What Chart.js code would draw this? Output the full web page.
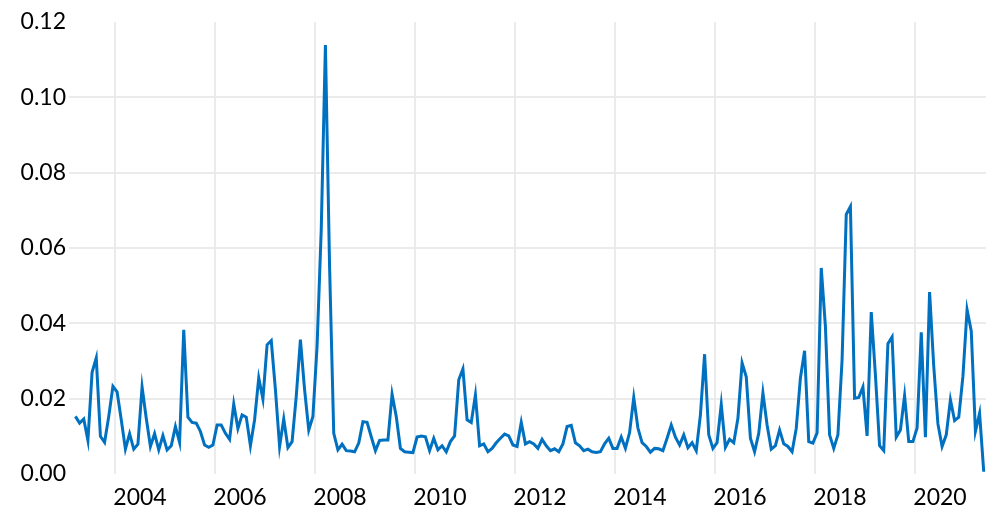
<!DOCTYPE html>
<html>
<head>
<meta charset="utf-8">
<script src="https://cdn.jsdelivr.net/npm/chart.js@4.4.1/dist/chart.umd.min.js"></script>
<style>
  html, body { margin: 0; padding: 0; background: #fff; }
  #wrap { width: 986px; height: 515px; position: relative; }
</style>
</head>
<body>
<div id="wrap"><canvas id="chart"></canvas></div>
<script>
// monthly series, first point March 2003
var startYear = 2003;
var startMonth = 3;

var values = [
  0.0153, 0.0135, 0.0146, 0.0089, 0.0270, 0.0308, 0.0100, 0.0084, 0.0153, 0.0233,
  0.0218, 0.0144, 0.0066, 0.0107, 0.0066, 0.0079, 0.0231, 0.0148, 0.0073, 0.0107,
  0.0064, 0.0102, 0.0064, 0.0075, 0.0126, 0.0084, 0.0383, 0.0151, 0.0137, 0.0135,
  0.0113, 0.0077, 0.0071, 0.0077, 0.0130, 0.0130, 0.0108, 0.0092, 0.0186, 0.0121,
  0.0157, 0.0151, 0.0075, 0.0144, 0.0255, 0.0199, 0.0343, 0.0354, 0.0224, 0.0073,
  0.0146, 0.0070, 0.0086, 0.0206, 0.0357, 0.0224, 0.0117, 0.0153, 0.0340, 0.0650,
  0.1139, 0.0550, 0.0108, 0.0064, 0.0079, 0.0062, 0.0061, 0.0059, 0.0082, 0.0139,
  0.0137, 0.0099, 0.0062, 0.0089, 0.0090, 0.0090, 0.0212, 0.0153, 0.0068, 0.0059,
  0.0058, 0.0057, 0.0098, 0.0101, 0.0099, 0.0062, 0.0095, 0.0064, 0.0075, 0.0059,
  0.0086, 0.0101, 0.0250, 0.0279, 0.0144, 0.0137, 0.0210, 0.0075, 0.0080, 0.0059,
  0.0068, 0.0083, 0.0095, 0.0106, 0.0101, 0.0077, 0.0073, 0.0137, 0.0080, 0.0086,
  0.0080, 0.0068, 0.0092, 0.0075, 0.0062, 0.0067, 0.0059, 0.0080, 0.0126, 0.0129,
  0.0083, 0.0075, 0.0062, 0.0066, 0.0059, 0.0057, 0.0059, 0.0080, 0.0095, 0.0068,
  0.0068, 0.0098, 0.0068, 0.0110, 0.0203, 0.0122, 0.0083, 0.0073, 0.0058, 0.0068,
  0.0067, 0.0062, 0.0095, 0.0130, 0.0098, 0.0077, 0.0104, 0.0070, 0.0083, 0.0062,
  0.0157, 0.0318, 0.0104, 0.0068, 0.0083, 0.0185, 0.0071, 0.0092, 0.0083, 0.0148,
  0.0295, 0.0258, 0.0095, 0.0059, 0.0108, 0.0215, 0.0130, 0.0066, 0.0075, 0.0117,
  0.0080, 0.0073, 0.0059, 0.0121, 0.0255, 0.0327, 0.0086, 0.0082, 0.0109, 0.0547,
  0.0392, 0.0104, 0.0068, 0.0104, 0.0303, 0.0689, 0.0710, 0.0201, 0.0203, 0.0231,
  0.0101, 0.0430, 0.0263, 0.0075, 0.0062, 0.0346, 0.0364, 0.0098, 0.0117, 0.0208,
  0.0086, 0.0086, 0.0122, 0.0376, 0.0098, 0.0483, 0.0286, 0.0133, 0.0073, 0.0104,
  0.0197, 0.0142, 0.0151, 0.0259, 0.0436, 0.0380, 0.0113, 0.0161, 0.0006
];

var yearTicks = [2004, 2006, 2008, 2010, 2012, 2014, 2016, 2018, 2020];
var valueTicks = [0, 0.02, 0.04, 0.06, 0.08, 0.10, 0.12];

var points = values.map(function (v, i) {
  return { x: startYear + (startMonth - 1 + i + 0.5) / 12, y: v };
});

var labelFont = { family: 'Lato', size: 23 };

new Chart(document.getElementById('chart'), {
  type: 'line',
  data: {
    datasets: [
      {
        data: points,
        borderColor: '#0070C0',
        borderWidth: 3,
        pointRadius: 0,
        tension: 0,
        fill: false
      }
    ]
  },
  options: {
    responsive: true,
    maintainAspectRatio: false,
    animation: false,
    layout: {
      padding: { top: 22, right: 0, bottom: 0, left: 0 }
    },
    scales: {
      x: {
        type: 'linear',
        min: 2003.08,
        max: 2021.42,
        afterBuildTicks: function (scale) {
          scale.ticks = yearTicks.map(function (v) { return { value: v }; });
        },
        afterFit: function (scale) {
          scale.height = 41;
        },
        ticks: {
          font: labelFont,
          color: '#000',
          labelOffset: 25,
          padding: 10,
          maxRotation: 0,
          autoSkip: false,
          callback: function (value) { return String(value); }
        },
        grid: {
          color: '#ebebeb',
          lineWidth: 2,
          drawTicks: false
        },
        border: { display: false }
      },
      y: {
        min: 0,
        max: 0.12,
        afterBuildTicks: function (scale) {
          scale.ticks = valueTicks.map(function (v) { return { value: v }; });
        },
        afterFit: function (scale) {
          scale.width = 69;
        },
        ticks: {
          font: labelFont,
          color: '#000',
          padding: 3,
          callback: function (value) { return value.toFixed(2); }
        },
        grid: {
          // no line at the bottom or the top value
          color: function (ctx) {
            if (ctx.index === 0 || ctx.index === valueTicks.length - 1) return 'rgba(0,0,0,0)';
            return '#ebebeb';
          },
          lineWidth: 2,
          drawTicks: false
        },
        border: { display: false }
      }
    },
    plugins: {
      legend: { display: false },
      tooltip: { enabled: false }
    }
  }
});
</script>
</body>
</html>
